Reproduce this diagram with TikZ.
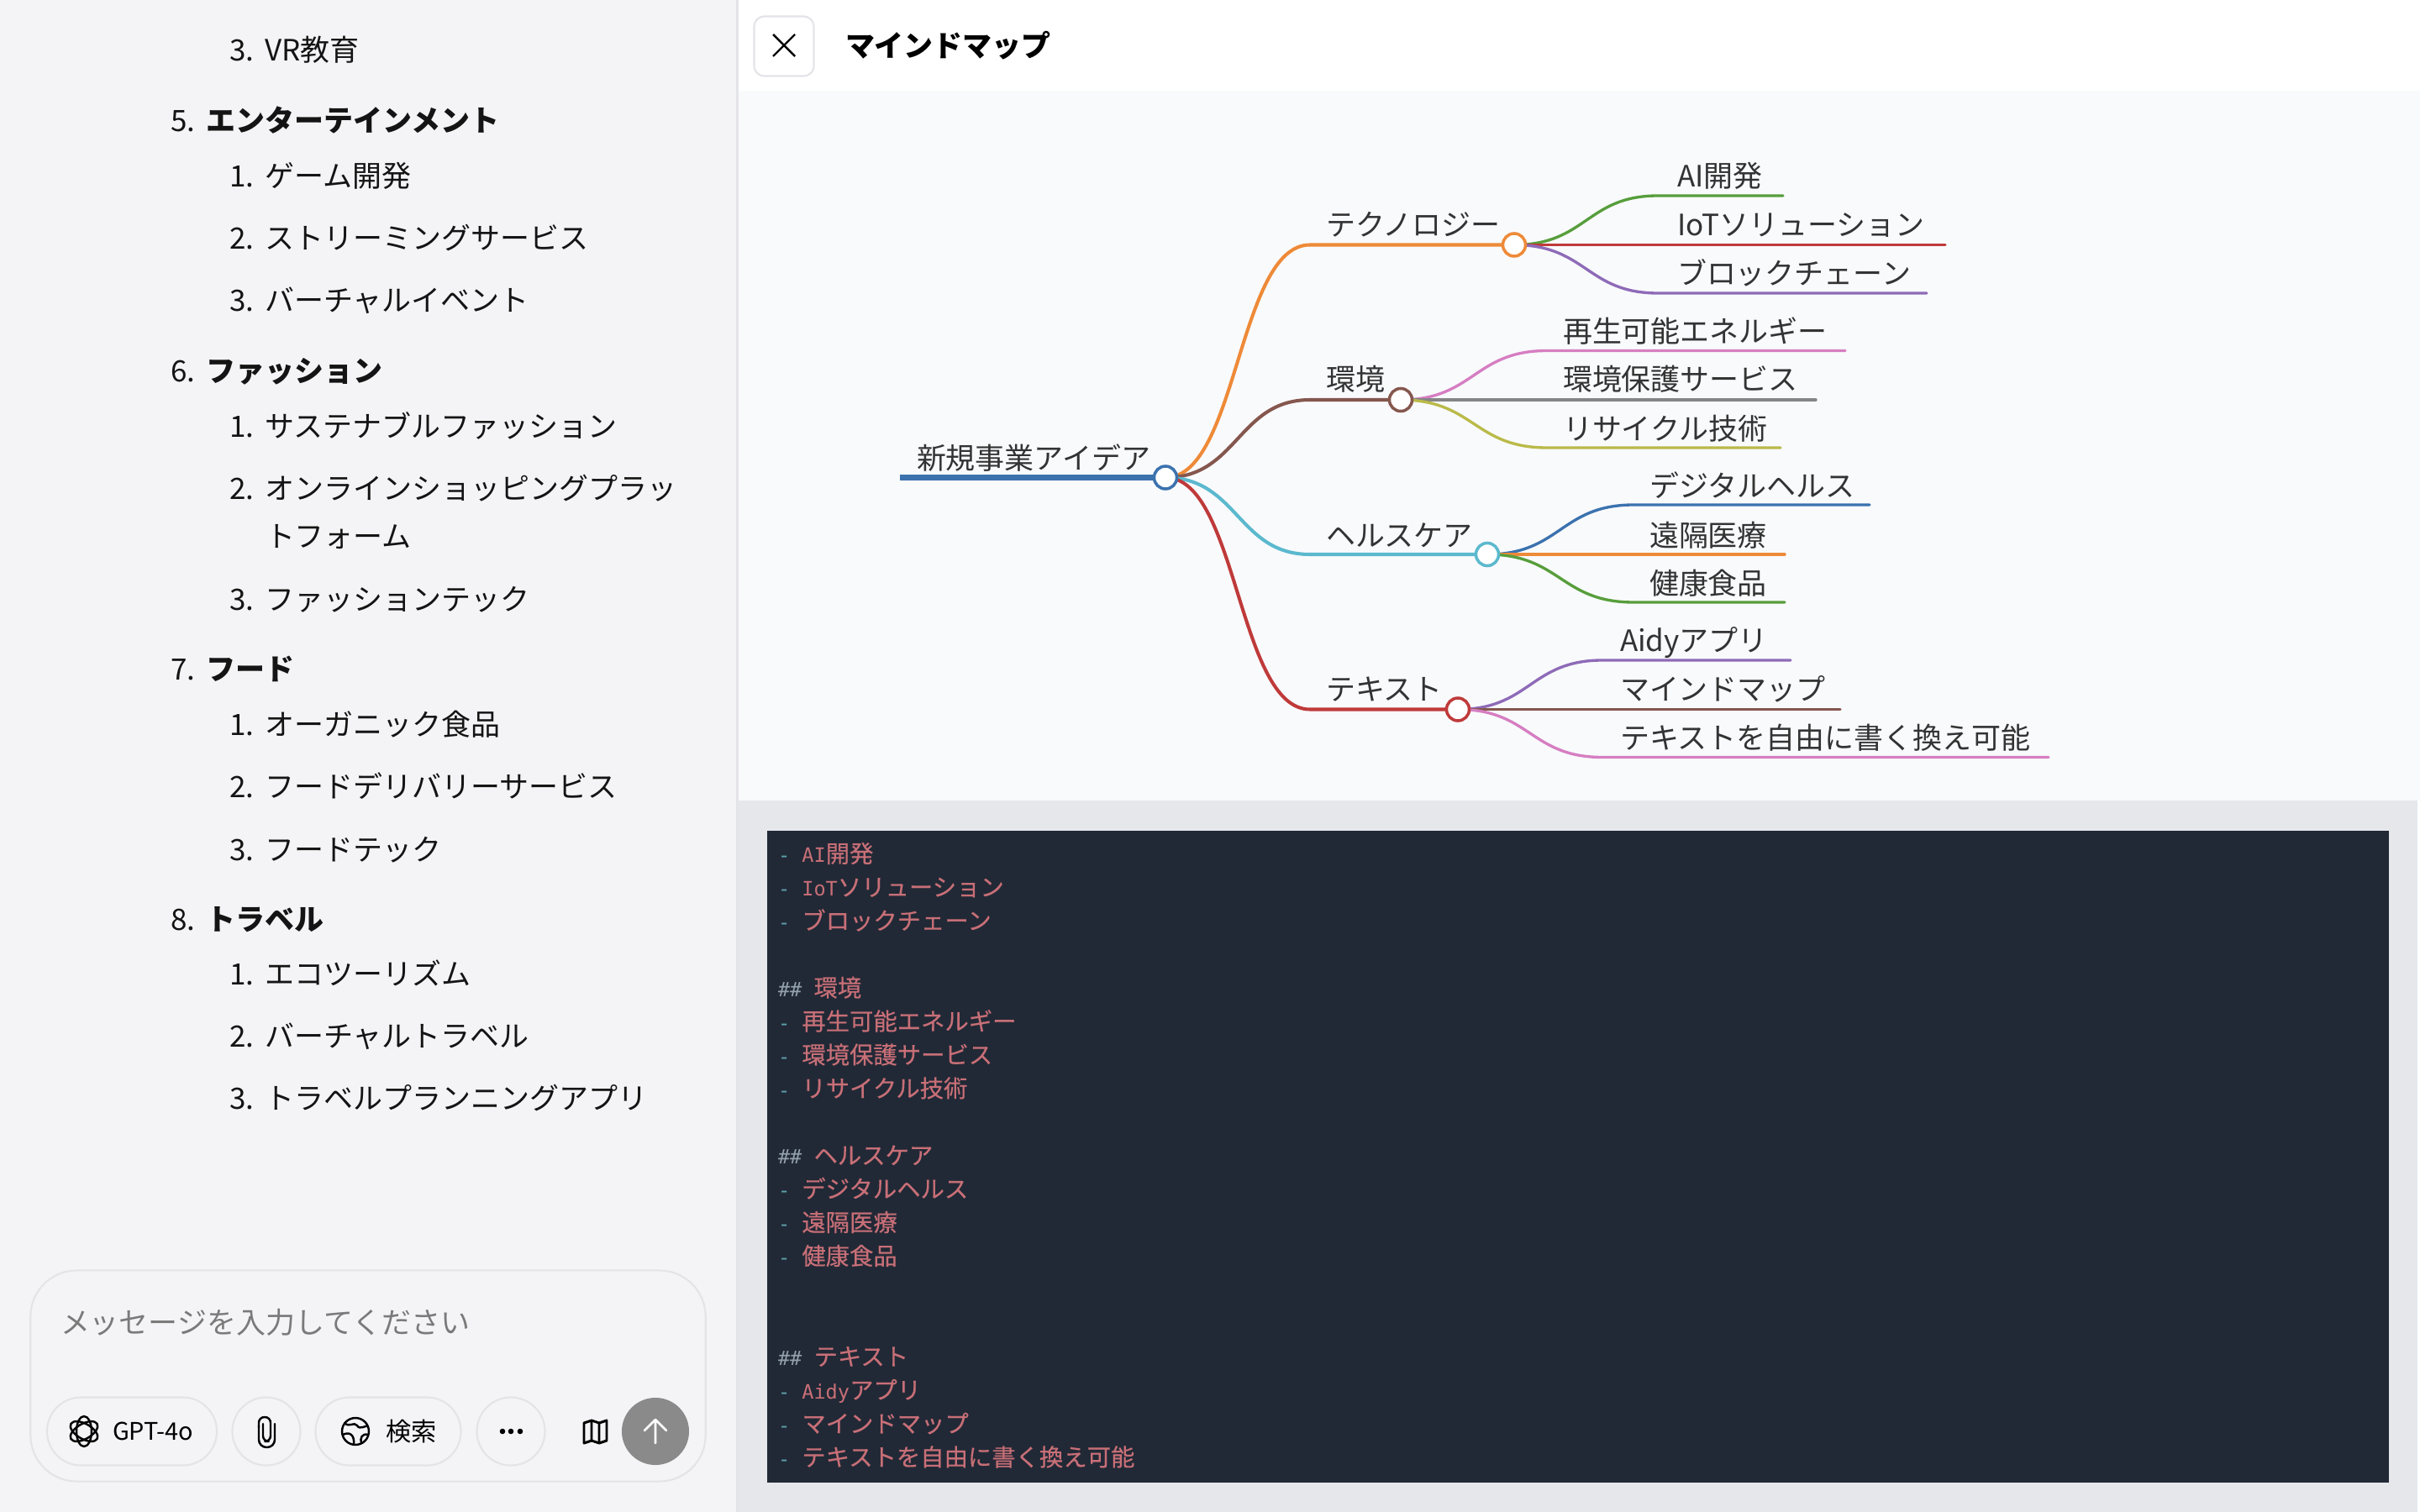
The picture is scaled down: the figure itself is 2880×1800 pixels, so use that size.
\documentclass[tikz,border=0pt]{standalone}
\usepackage{fontspec}
\usepackage{xcolor}
\usetikzlibrary{backgrounds}
\setmainfont{Noto Sans CJK JP}
\newfontfamily\codefont[FakeBold=0.35]{Noto Sans CJK JP}
\newfontfamily\monolat{DejaVu Sans Mono}
\definecolor{sidebg}{HTML}{F4F4F6}
\definecolor{mapbg}{HTML}{F9FAFC}
\definecolor{codebg}{HTML}{E5E7EB}
\definecolor{codedark}{HTML}{222936}
\definecolor{codepink}{HTML}{C76F77}
\definecolor{codeteal}{HTML}{5FA3AC}
\definecolor{codegrey}{HTML}{93A1AD}
\definecolor{edgegrey}{HTML}{E4E4E8}
\definecolor{mblue}{HTML}{3B72AE}
\definecolor{morange}{HTML}{EE8A38}
\definecolor{mbrown}{HTML}{85574E}
\definecolor{mcyan}{HTML}{5BB9CE}
\definecolor{mred}{HTML}{BF3A3A}
\definecolor{mgreen}{HTML}{579E3C}
\definecolor{mpurple}{HTML}{8E6BB8}
\definecolor{mpink}{HTML}{D67EC2}
\definecolor{mgrey}{HTML}{858585}
\definecolor{molive}{HTML}{BABA49}
\newcommand{\numb}[1]{\makebox[12pt][l]{#1.}}
\newcommand{\lat}[1]{{\monolat\fontsize{6.7pt}{11.35pt}\selectfont #1}}
\newcommand{\cdash}{{\monolat\fontsize{6.7pt}{11.35pt}\selectfont\color{codeteal}-\ }}
\newcommand{\chead}{{\monolat\fontsize{6.7pt}{11.35pt}\selectfont\color{codegrey}\#\#\ }}
\begin{document}
\begin{tikzpicture}[x=0.01cm,y=-0.01cm,
    every node/.style={inner sep=0pt,outer sep=0pt},
    listitem/.style={anchor=base west,font=\fontsize{9.95pt}{12pt}\selectfont,text=black!92},
    hubnode/.style={shape=circle,draw=#1,fill=white,line width=1pt,minimum size=0.27cm},
    maptext/.style={anchor=base west,font=\fontsize{9.95pt}{12pt}\selectfont,text=black!80},
    mainlink/.style={line width=1.15pt,line cap=round},
    sublink/.style={line width=0.95pt,line cap=round},
    pillbox/.style={shape=rectangle,draw=edgegrey,line width=0.6pt,minimum height=0.81cm,rounded corners=0.405cm},
    icon/.style={black,line width=0.7pt,line join=round,line cap=round}]
  \useasboundingbox (0,0) rectangle (2880,1800);

  \node[listitem] (edu3) at (273,73) {\numb{3}VR教育};
  \node[listitem] (ent) at (203,157) {\numb{5}\textbf{エンターテインメント}};
  \node[listitem] (ent1) at (273,223) {\numb{1}ゲーム開発};
  \node[listitem] (ent2) at (273,297) {\numb{2}ストリーミングサービス};
  \node[listitem] (ent3) at (273,370) {\numb{3}バーチャルイベント};
  \node[listitem] (fas) at (203,455) {\numb{6}\textbf{ファッション}};
  \node[listitem] (fas1) at (273,521) {\numb{1}サステナブルファッション};
  \node[listitem] (fas2) at (273,594) {\numb{2}オンラインショッピングプラッ};
  \node[listitem] (fas2b) at (316,651) {トフォーム};
  \node[listitem] (fas3) at (273,726) {\numb{3}ファッションテック};
  \node[listitem] (foo) at (203,809) {\numb{7}\textbf{フード}};
  \node[listitem] (foo1) at (273,875) {\numb{1}オーガニック食品};
  \node[listitem] (foo2) at (273,949) {\numb{2}フードデリバリーサービス};
  \node[listitem] (foo3) at (273,1024) {\numb{3}フードテック};
  \node[listitem] (tra) at (203,1107) {\numb{8}\textbf{トラベル}};
  \node[listitem] (tra1) at (273,1172) {\numb{1}エコツーリズム};
  \node[listitem] (tra2) at (273,1246) {\numb{2}バーチャルトラベル};
  \node[listitem] (tra3) at (273,1320) {\numb{3}トラベルプランニングアプリ};

  \node[draw=edgegrey,line width=0.6pt,rounded corners=0.55cm,minimum width=8.03cm,minimum height=2.51cm] (inputbox) at (438,1638) {};
  \node[listitem,text=black!52] (inputtext) at (72,1587) {メッセージを入力してください};
  \node[pillbox,minimum width=2.02cm] (gptpill) at (157,1704) {};
  \node[pillbox,minimum width=0.81cm] (clippill) at (317,1704) {};
  \node[pillbox,minimum width=1.73cm] (searchpill) at (462,1704) {};
  \node[pillbox,minimum width=0.81cm] (morepill) at (608,1704) {};
  \node[anchor=west,font=\fontsize{8.2pt}{10pt}\selectfont] (gpttext) at (134,1704) {GPT-4o};
  \node[anchor=west,font=\fontsize{8.6pt}{10pt}\selectfont] (searchtext) at (459,1704) {検索};
  \node[shape=circle,fill=black!46,minimum size=0.8cm] (sendbtn) at (780,1704) {};
  \foreach \ang in {30,90,150}
    \draw[icon,rotate around={\ang:(100,1704)}] (100,1704) ellipse (18 and 9);
  \draw[icon] (308,1697) -- (308,1712) [rounded corners=2.6pt] -- (308,1723) -- (327,1723) -- (327,1695);
  \draw[icon,rounded corners=1.9pt] (308,1700) -- (308,1687) -- (322,1687) -- (322,1716) -- (313,1716) -- (313,1695);
  \draw[icon] (423,1704) circle (16);
  \draw[icon] (410,1694) .. controls (416,1700) and (421,1692) .. (425,1697) .. controls (428,1703) and (436,1696) .. (438,1698);
  \draw[icon] (408,1708) .. controls (416,1704) and (422,1708) .. (421,1719);
  \draw[icon] (438,1708) .. controls (431,1706) and (428,1712) .. (430,1718);
  \foreach \dx in {598,608,619}
    \fill (\dx,1704) circle (3.3);
  \draw[icon,line width=0.85pt] (695,1694) -- (704,1691) -- (713,1694) -- (722,1691) -- (722,1715) -- (713,1718) -- (704,1715) -- (695,1718) -- cycle (704,1691) -- (704,1715) (713,1694) -- (713,1718);
  \draw[white,line width=0.75pt,line cap=round,line join=round] (780,1718) -- (780,1690) (767,1703) -- (780,1690) -- (793,1703);

  \node[draw=edgegrey,line width=0.6pt,rounded corners=0.12cm,minimum size=0.71cm] (closebtn) at (933,55) {};
  \draw[black,line width=0.7pt] (920,41) -- (946,67) (920,67) -- (946,41);
  \node[anchor=west,font=\bfseries\fontsize{9.95pt}{12pt}\selectfont] (title) at (1006,54) {マインドマップ};

  \node[hubnode=mblue] (root) at (1387,568.5) {};
  \node[hubnode=morange] (tech) at (1802,291.5) {};
  \node[hubnode=mbrown] (env) at (1667,476) {};
  \node[hubnode=mcyan] (health) at (1770,660) {};
  \node[hubnode=mred] (text) at (1735,844.5) {};
  \coordinate (rootS) at (1071,568.5);
  \coordinate (techS) at (1559,291.5);
  \coordinate (envS) at (1559,476);
  \coordinate (healthS) at (1559,660);
  \coordinate (textS) at (1559,844.5);
  \node[maptext] (rootL) at (1091,558) {新規事業アイデア};
  \node[maptext] (techL) at (1578,281) {テクノロジー};
  \node[maptext] (envL) at (1578,465) {環境};
  \node[maptext] (healthL) at (1578,650) {ヘルスケア};
  \node[maptext] (textL) at (1578,833) {テキスト};

  \coordinate (aiS) at (1973,233); \coordinate (aiE) at (2122,233);
  \coordinate (iotS) at (1973,291.5); \coordinate (iotE) at (2315,291.5);
  \coordinate (bcS) at (1973,349); \coordinate (bcE) at (2293,349);
  \coordinate (greS) at (1841,417.5); \coordinate (greE) at (2196,417.5);
  \coordinate (ecoS) at (1841,476); \coordinate (ecoE) at (2161,476);
  \coordinate (recS) at (1841,533); \coordinate (recE) at (2119,533);
  \coordinate (digS) at (1944,601); \coordinate (digE) at (2225,601);
  \coordinate (remS) at (1944,660); \coordinate (remE) at (2124,660);
  \coordinate (fooS) at (1944,717); \coordinate (fooE) at (2124,717);
  \coordinate (aidyS) at (1907,786); \coordinate (aidyE) at (2131,786);
  \coordinate (mapS) at (1907,844.5); \coordinate (mapE) at (2190,844.5);
  \coordinate (rewS) at (1907,901.5); \coordinate (rewE) at (2438,901.5);

  \node[maptext] (aiL) at (1996,223) {AI開発};
  \node[maptext] (iotL) at (1996,281) {IoTソリューション};
  \node[maptext] (bcL) at (1996,339) {ブロックチェーン};
  \node[maptext] (greL) at (1860,407) {再生可能エネルギー};
  \node[maptext] (ecoL) at (1860,465) {環境保護サービス};
  \node[maptext] (recL) at (1860,523) {リサイクル技術};
  \node[maptext] (digL) at (1963,591) {デジタルヘルス};
  \node[maptext] (remL) at (1963,650) {遠隔医療};
  \node[maptext] (fooL) at (1963,707) {健康食品};
  \node[maptext] (aidyL) at (1928,775) {Aidyアプリ};
  \node[maptext] (mapL) at (1928,833) {マインドマップ};
  \node[maptext] (rewL) at (1928,891) {テキストを自由に書く換え可能};

  \node[anchor=north west,align=left,font=\codefont\fontsize{8.06pt}{11.35pt}\selectfont,text=codepink] (codetext) at (926,1003) {%
    \cdash\lat{AI}開発\\
    \cdash\lat{IoT}ソリューション\\
    \cdash ブロックチェーン\\
    \strut\\
    \chead 環境\\
    \cdash 再生可能エネルギー\\
    \cdash 環境保護サービス\\
    \cdash リサイクル技術\\
    \strut\\
    \chead ヘルスケア\\
    \cdash デジタルヘルス\\
    \cdash 遠隔医療\\
    \cdash 健康食品\\
    \strut\\
    \strut\\
    \chead テキスト\\
    \cdash\lat{Aidy}アプリ\\
    \cdash マインドマップ\\
    \cdash テキストを自由に書く換え可能};

  \begin{scope}[on background layer]
    \fill[white] (0,0) rectangle (2880,1800);
    \fill[sidebg] (0,0) rectangle (876,1800);
    \fill[edgegrey] (876,0) rectangle (879,1800);
    \fill[mapbg] (879,108) rectangle (2880,953);
    \fill[codebg] (879,953) rectangle (2877,1800);
    \fill[codedark] (913,989) rectangle (2843,1765);
    \draw[mblue,line width=1.75pt] (rootS) -- (root);
    \draw[mainlink,morange] (root.center) .. controls (1473,568.5) and (1473,291.5) .. (techS) -- (tech);
    \draw[mainlink,mbrown] (root.center) .. controls (1473,568.5) and (1473,476) .. (envS) -- (env);
    \draw[mainlink,mcyan] (root.center) .. controls (1473,568.5) and (1473,660) .. (healthS) -- (health);
    \draw[mainlink,mred] (root.center) .. controls (1473,568.5) and (1473,844.5) .. (textS) -- (text);
    \draw[sublink,mgreen] (tech.center) .. controls (1888,291.5) and (1888,233) .. (aiS) -- (aiE);
    \draw[sublink,mred] (tech.center) -- (iotS) -- (iotE);
    \draw[sublink,mpurple] (tech.center) .. controls (1888,291.5) and (1888,349) .. (bcS) -- (bcE);
    \draw[sublink,mpink] (env.center) .. controls (1754,476) and (1754,417.5) .. (greS) -- (greE);
    \draw[sublink,mgrey] (env.center) -- (ecoS) -- (ecoE);
    \draw[sublink,molive] (env.center) .. controls (1754,476) and (1754,533) .. (recS) -- (recE);
    \draw[sublink,mblue] (health.center) .. controls (1857,660) and (1857,601) .. (digS) -- (digE);
    \draw[sublink,morange] (health.center) -- (remS) -- (remE);
    \draw[sublink,mgreen] (health.center) .. controls (1857,660) and (1857,717) .. (fooS) -- (fooE);
    \draw[sublink,mpurple] (text.center) .. controls (1821,844.5) and (1821,786) .. (aidyS) -- (aidyE);
    \draw[sublink,mbrown] (text.center) -- (mapS) -- (mapE);
    \draw[sublink,mpink] (text.center) .. controls (1821,844.5) and (1821,901.5) .. (rewS) -- (rewE);
  \end{scope}
\end{tikzpicture}
\end{document}
